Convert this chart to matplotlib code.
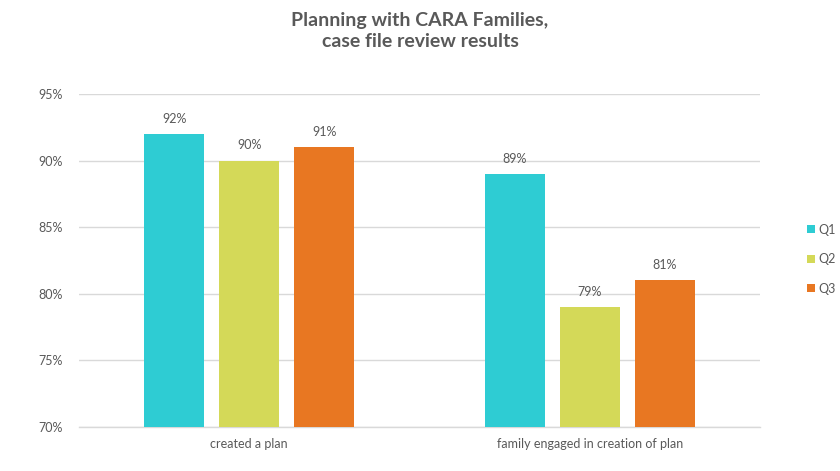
import numpy as np
import matplotlib.pyplot as plt
from matplotlib.ticker import FuncFormatter

categories = ["created a plan", "family engaged in creation of plan"]
series_names = ["Q1", "Q2", "Q3"]
q1 = [92, 89]
q2 = [90, 79]
q3 = [91, 81]
colors = ["#2ECCD3", "#D4D958", "#E87722"]

plt.rcParams['font.family'] = ['Lato', 'DejaVu Sans']
text_grey = "#595959"

fig = plt.figure(figsize=(8.4, 4.71), dpi=100)
ax = fig.add_axes([0.094, 0.0934, 0.811, 0.707])

x = np.arange(len(categories))
width = 0.176
step = 0.22
for i, (name, vals, c) in enumerate(zip(series_names, [q1, q2, q3], colors)):
    pos = x + (i - 1) * step
    bars = ax.bar(pos, vals, width, color=c, label=name, zorder=3)
    for b, v in zip(bars, vals):
        ax.text(b.get_x() + b.get_width() / 2, v + 0.7, f"{v}%",
                ha='center', va='bottom', fontsize=9, color=text_grey, zorder=4)

ax.set_xlim(-0.5, 1.5)
ax.set_ylim(70, 95)
ax.set_yticks(np.arange(70, 96, 5))
ax.yaxis.set_major_formatter(FuncFormatter(lambda v, p: f"{v:.0f}%"))
ax.set_xticks(x)
ax.set_xticklabels(categories)
ax.tick_params(axis='both', length=0, labelsize=9, colors=text_grey)
ax.tick_params(axis='y', pad=12)
ax.tick_params(axis='x', pad=8)
ax.grid(axis='y', color='#D9D9D9', linewidth=1, zorder=0)
for side in ['top', 'right', 'left']:
    ax.spines[side].set_visible(False)
ax.spines['bottom'].set_color('#D9D9D9')
ax.spines['bottom'].set_linewidth(1)

fig.suptitle("Planning with CARA Families,\ncase file review results",
             fontsize=14, fontweight='bold', color=text_grey, y=0.974, linespacing=1.25)

leg = fig.legend(loc='center left', bbox_to_anchor=(0.955, 0.45), frameon=False,
                 fontsize=9, handlelength=0.6, handleheight=0.6, handletextpad=0.3,
                 labelspacing=1.4, borderaxespad=0)
for t in leg.get_texts():
    t.set_color(text_grey)

plt.savefig("out.png", dpi=100)
